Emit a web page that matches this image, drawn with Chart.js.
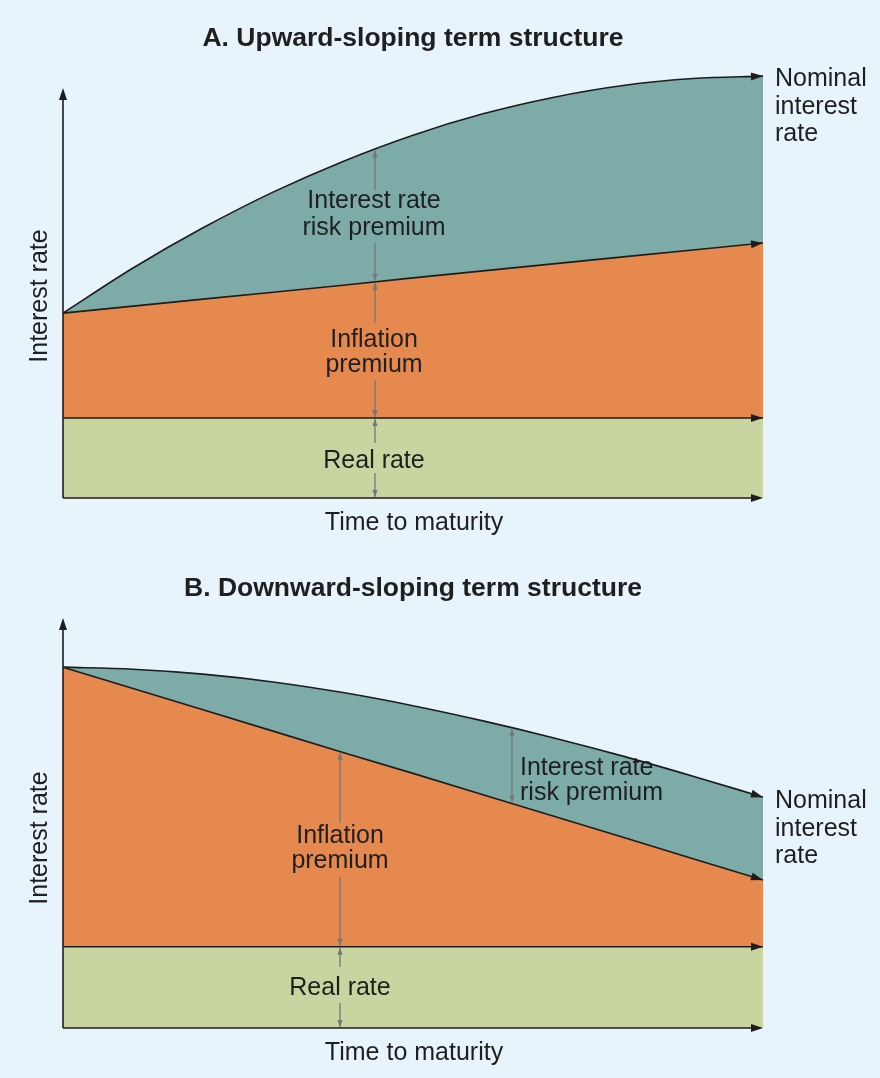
<!DOCTYPE html>
<html><head><meta charset="utf-8">
<script src="https://cdn.jsdelivr.net/npm/chart.js@4.4.0/dist/chart.umd.min.js"></script>
<style>
html,body{margin:0;padding:0;background:#e8f4fb;}
body{width:880px;height:1078px;position:relative;overflow:hidden;}
canvas{position:absolute;left:0;}
#cA{top:0}
#cB{top:530px}
</style></head><body>
<canvas id="cA" width="880" height="540"></canvas>
<canvas id="cB" width="880" height="548"></canvas>
<script>
// ---------- data ----------
const timeLabels = ['0','1','2','3','4','5','6','7','8','9','10'];
// Panel A (upward-sloping)
const realA      = [1.95,1.95,1.95,1.95,1.95,1.95,1.95,1.95,1.95,1.95,1.95];
const inflationA = [4.51,4.68,4.85,5.02,5.19,5.37,5.54,5.71,5.88,6.05,6.22];
const nominalA   = [4.51,5.61,6.59,7.46,8.21,8.85,9.37,9.77,10.06,10.23,10.29];
// Panel B (downward-sloping)
const realB      = [1.98,1.98,1.98,1.98,1.98,1.98,1.98,1.98,1.98,1.98,1.98];
const inflationB = [8.80,8.28,7.76,7.24,6.72,6.21,5.69,5.17,4.65,4.13,3.61];
const nominalB   = [8.80,8.75,8.63,8.44,8.18,7.86,7.49,7.08,6.63,6.14,5.63];
// texts
const titleA = 'A. Upward-sloping term structure';
const titleB = 'B. Downward-sloping term structure';
const yAxisTitle = 'Interest rate';
const xAxisTitle = 'Time to maturity';
const nominalText = ['Nominal','interest','rate'];
const riskText = ['Interest rate','risk premium'];
const inflationText = ['Inflation','premium'];
const realText = ['Real rate'];

// ---------- style ----------
const COL = {teal:'#7caba8', orange:'#e5894f', green:'#c8d5a0', ink:'#1d1d1d', text:'#1f1f1f', guide:'#767676'};
const FONT = '"Liberation Sans", Arial, Helvetica, sans-serif';

function valAt(arr, f){
  const i = Math.floor(f);
  if (i >= arr.length-1) return arr[arr.length-1];
  const t = f - i;
  return arr[i]*(1-t) + arr[i+1]*t;
}
function head(ctx, x, y, dx, dy, len, hw){
  const L = Math.hypot(dx,dy) || 1; const ux = dx/L, uy = dy/L;
  ctx.beginPath();
  ctx.moveTo(x, y);
  ctx.lineTo(x - ux*len - uy*hw, y - uy*len + ux*hw);
  ctx.lineTo(x - ux*len + uy*hw, y - uy*len - ux*hw);
  ctx.closePath(); ctx.fill();
}

function makePlugin(cfg){
  return {
    id: 'termAnnot',
    afterDatasetsDraw(chart){
      const ctx = chart.ctx, ca = chart.chartArea;
      const xs = chart.scales.x, ys = chart.scales.y;
      const n = timeLabels.length - 1;
      const xp = f => xs.getPixelForDecimal(f / n);
      const y0 = ys.getPixelForValue(0);
      const series = {real: cfg.real, inflation: cfg.inflation, nominal: cfg.nominal, zero: null};
      const yAt = (name, f) => name === 'zero' ? y0 : ys.getPixelForValue(valAt(series[name], f));
      ctx.save();
      // guide arrows
      ctx.strokeStyle = COL.guide; ctx.fillStyle = COL.guide; ctx.lineWidth = 1.3;
      cfg.guides.forEach(g => {
        const x = xp(g.at);
        const top = yAt(g.from, g.at) + 1, bot = yAt(g.to, g.at) - 1;
        let segs = [[top, bot]];
        (g.gaps || []).forEach(([a,b]) => {
          const out = [];
          segs.forEach(([s,e]) => { if (b <= s || a >= e) out.push([s,e]); else { if (a > s) out.push([s,a]); if (b < e) out.push([b,e]); } });
          segs = out;
        });
        ctx.beginPath();
        segs.forEach(([s,e]) => { ctx.moveTo(x, s); ctx.lineTo(x, e); });
        ctx.stroke();
        head(ctx, x, top, 0, -1, 7, 2.6);
        head(ctx, x, bot, 0, 1, 7, 2.6);
      });
      // axes
      ctx.strokeStyle = COL.ink; ctx.fillStyle = COL.ink; ctx.lineWidth = 1.6;
      const tip = ys.getPixelForValue(cfg.axisTop);
      ctx.beginPath(); ctx.moveTo(ca.left, y0); ctx.lineTo(ca.left, tip + 6); ctx.stroke();
      head(ctx, ca.left, tip, 0, -1, 12, 4);
      ctx.beginPath(); ctx.moveTo(ca.left, y0); ctx.lineTo(ca.right - 6, y0); ctx.stroke();
      head(ctx, ca.right, y0, 1, 0, 12, 4);
      // arrow heads on dataset lines
      chart.data.datasets.forEach((ds, i) => {
        const pts = chart.getDatasetMeta(i).data;
        const p = pts[pts.length-1], q = pts[pts.length-2];
        let dx = p.x - q.x, dy = p.y - q.y;
        if (p.cp1x !== undefined && Math.hypot(p.x - p.cp1x, p.y - p.cp1y) > 0.5) { dx = p.x - p.cp1x; dy = p.y - p.cp1y; }
        head(ctx, p.x, p.y, dx, dy, 12, 4);
      });
      // texts
      ctx.fillStyle = COL.text;
      ctx.font = '25px ' + FONT;
      ctx.textBaseline = 'alphabetic';
      cfg.texts.forEach(t => {
        ctx.textAlign = t.align || 'center';
        t.lines.forEach((s, k) => ctx.fillText(s, t.x, t.y + k*t.lh));
      });
      // nominal label next to the end of the nominal line
      const nm = chart.getDatasetMeta(2).data; const last = nm[nm.length-1];
      ctx.textAlign = 'left';
      nominalText.forEach((s, k) => ctx.fillText(s, cfg.nomX, last.y + cfg.nomDy + k*27.5));
      // axis titles
      ctx.textAlign = 'center';
      ctx.fillText(xAxisTitle, cfg.xTitle[0], cfg.xTitle[1]);
      ctx.save();
      ctx.translate(cfg.yTitle[0], cfg.yTitle[1]); ctx.rotate(-Math.PI/2);
      ctx.textBaseline = 'middle';
      ctx.fillText(yAxisTitle, 0, 0);
      ctx.restore();
      ctx.restore();
    }
  };
}

function build(id, title, real, inflation, nominal, yMax, pad, titlePad, cfg){
  cfg.real = real; cfg.inflation = inflation; cfg.nominal = nominal;
  const line = {pointRadius: 0, borderColor: COL.ink, borderWidth: 1.6};
  return new Chart(document.getElementById(id), {
    type: 'line',
    data: {
      labels: timeLabels,
      datasets: [
        Object.assign({label: 'Real rate', data: real, backgroundColor: COL.green, fill: 'origin', tension: 0}, line),
        Object.assign({label: 'Inflation premium', data: inflation, backgroundColor: COL.orange, fill: '-1', tension: 0}, line),
        Object.assign({label: 'Nominal interest rate', data: nominal, backgroundColor: COL.teal, fill: '-1', cubicInterpolationMode: 'monotone'}, line)
      ]
    },
    options: {
      responsive: false, animation: false,
      layout: {padding: pad},
      scales: {
        x: {display: false},
        y: {display: false, min: 0, max: yMax}
      },
      plugins: {
        legend: {display: false}, tooltip: {enabled: false},
        title: {display: true, text: title, color: COL.text,
          font: {family: FONT, size: 26.5, weight: 'bold', lineHeight: 1}, padding: titlePad}
      }
    },
    plugins: [makePlugin(cfg)]
  });
}

build('cA', titleA, realA, inflationA, nominalA, 10.5,
  {left: 63, right: 117, top: 0, bottom: 42}, {top: 25, bottom: 16},
  {axisTop: 10, nomX: 775, nomDy: 10, xTitle: [414, 530], yTitle: [40, 296],
   guides: [
     {at: 4.457, from: 'nominal', to: 'inflation', gaps: [[190, 243]]},
     {at: 4.457, from: 'inflation', to: 'real', gaps: [[323, 380]]},
     {at: 4.457, from: 'real', to: 'zero', gaps: [[443, 473]]}
   ],
   texts: [
     {lines: riskText, x: 374, y: 208, lh: 27},
     {lines: inflationText, x: 374, y: 347, lh: 25},
     {lines: realText, x: 374, y: 468, lh: 25}
   ]});

build('cB', titleB, realB, inflationB, nominalB, 10.2,
  {left: 63, right: 117, top: 0, bottom: 50}, {top: 45.75, bottom: 7.5},
  {axisTop: 10, nomX: 775, nomDy: 11, xTitle: [414, 530], yTitle: [40, 308],
   guides: [
     {at: 6.414, from: 'nominal', to: 'inflation', gaps: []},
     {at: 3.957, from: 'inflation', to: 'real', gaps: [[293, 347]]},
     {at: 3.957, from: 'real', to: 'zero', gaps: [[437, 473]]}
   ],
   texts: [
     {lines: riskText, x: 520, y: 245, lh: 25, align: 'left'},
     {lines: inflationText, x: 340, y: 313, lh: 25},
     {lines: realText, x: 340, y: 465, lh: 25}
   ]});
</script>
</body></html>
